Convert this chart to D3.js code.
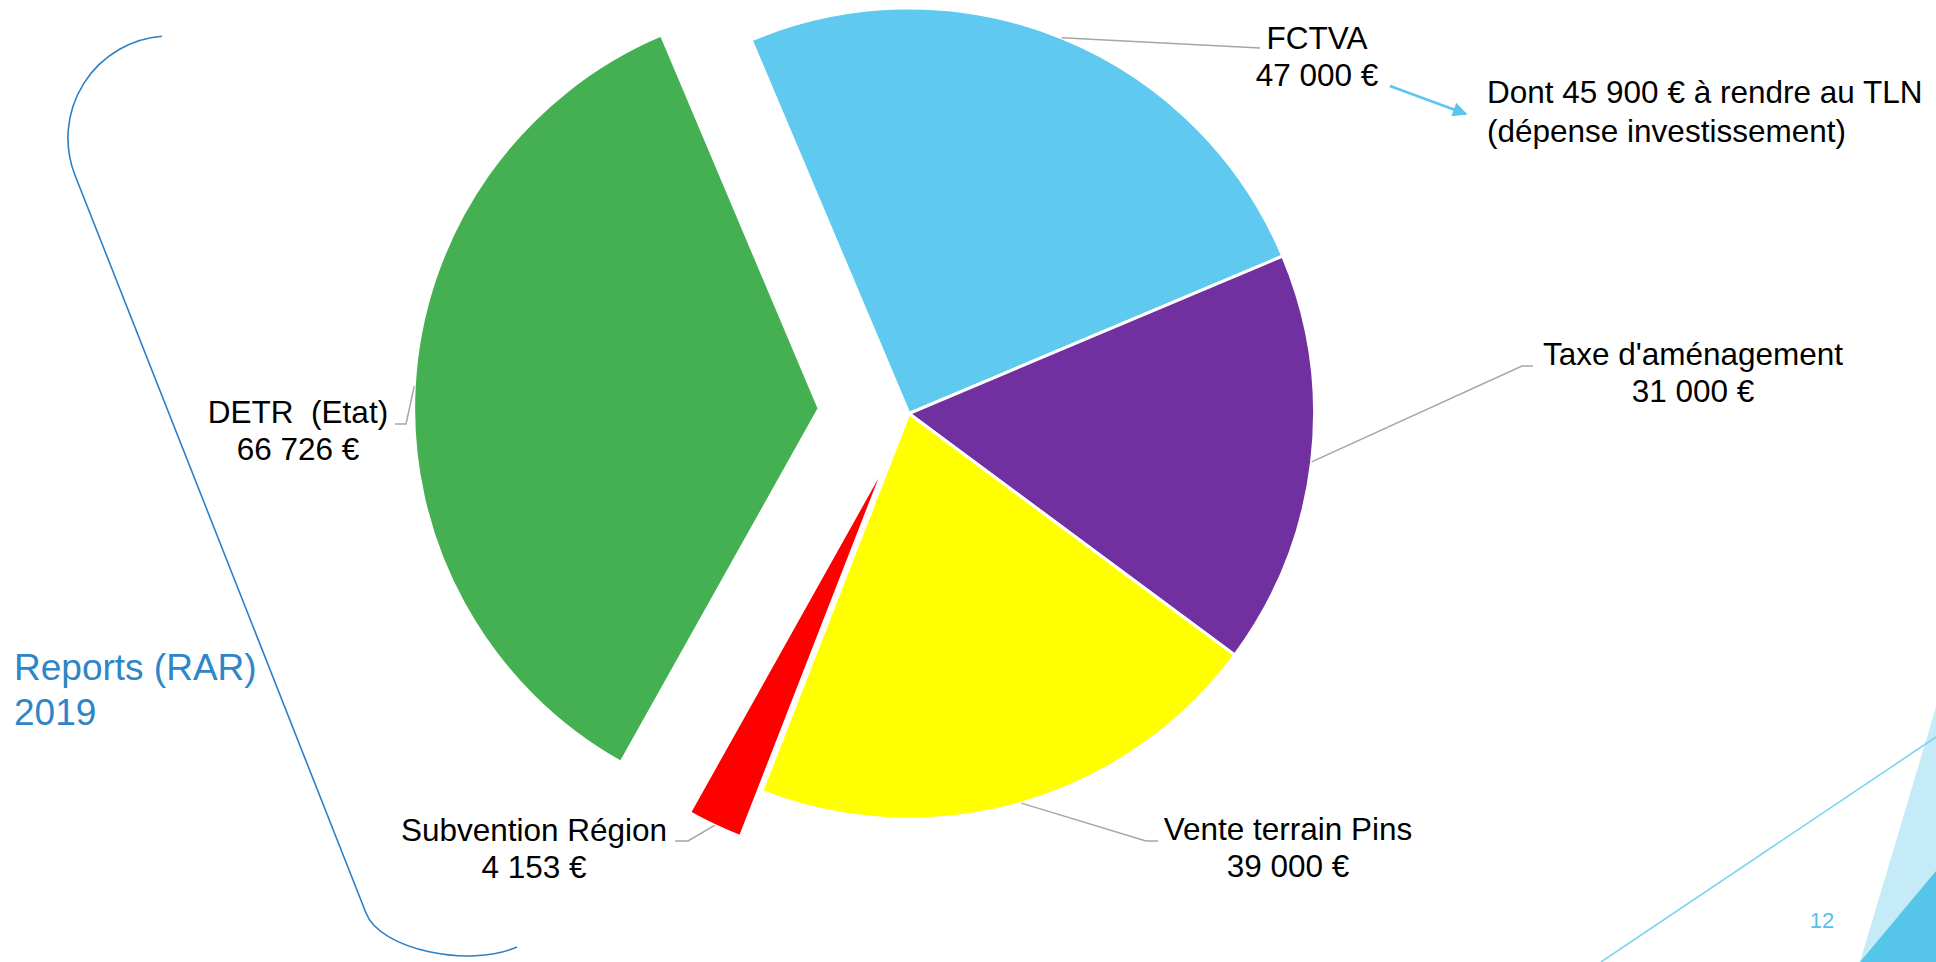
<!DOCTYPE html>
<html>
<head>
<meta charset="utf-8">
<script src="https://cdn.jsdelivr.net/npm/d3@7"></script>
<style>
  html, body { margin: 0; padding: 0; background: #ffffff; }
  svg { display: block; }
  text { font-family: "Liberation Sans", Arial, Helvetica, sans-serif; }
</style>
</head>
<body>
<script>
// ---------------- data ----------------
const categories = ["FCTVA", "Taxe d'aménagement", "Vente terrain Pins", "Subvention Région", "DETR  (Etat)"];
const values = [47000, 31000, 39000, 4153, 66726];
const sliceColors = ["#5fc9ef", "#7030a0", "#ffff00", "#ff0000", "#44b052"];
const noteLines = ["Dont 45 900 € à rendre au TLN", "(dépense investissement)"];
const groupLines = ["Reports (RAR)", "2019"];
const pageNumber = "12";

// ---------------- layout ----------------
const W = 1936, H = 962;
const cx = 909, cy = 413.5, R = 405.5;
const startDeg = -22.9;
const explode = [0, 0, 0, 50, 90];
// label anchor (text centre x, first baseline y) and leader elbow points
const labelLayout = [
  { x: 1317, y: 49,  pts: [[1260, 48]] },
  { x: 1693, y: 365, pts: [[1522, 366], [1533, 366]] },
  { x: 1288, y: 840, pts: [[1146, 841], [1158, 841]] },
  { x: 534,  y: 841, pts: [[688, 841], [675, 841]] },
  { x: 298,  y: 423, pts: [[406, 424], [395, 424]] }
];
const fontSize = 31.5, lineGap = 37;

const locale = d3.formatLocale({ decimal: ",", thousands: "\u00a0", grouping: [3], currency: ["", "\u00a0€"] });
const fmt = locale.format("$,");

const svg = d3.select("body").append("svg")
  .attr("width", W).attr("height", H)
  .attr("viewBox", `0 0 ${W} ${H}`);

svg.append("rect").attr("width", W).attr("height", H).attr("fill", "#ffffff");

// decorative corner shapes
const deco = svg.append("g");
deco.append("path").attr("d", "M1936,707 L1860,962 L1936,962 Z").attr("fill", "#c6ebf8");
deco.append("path").attr("d", "M1936,871 L1860,962 L1936,962 Z").attr("fill", "#55c5ea");
deco.append("line").attr("x1", 1601).attr("y1", 962).attr("x2", 1936).attr("y2", 737)
  .attr("stroke", "#7fd3f0").attr("stroke-width", 1.6);
deco.append("text").attr("x", 1822).attr("y", 928).attr("text-anchor", "middle")
  .attr("font-size", 22).attr("fill", "#4fc3e8").text(pageNumber);

// bracket
svg.append("path")
  .attr("d", "M162,36.3 A102,102 0 0 0 74.8,174.7 L366,913 C380,950 470,968 517,947")
  .attr("fill", "none").attr("stroke", "#2f7fc6").attr("stroke-width", 1.6);
const grp = svg.append("text").attr("font-size", 37).attr("fill", "#2e86c8");
groupLines.forEach((t, i) => grp.append("tspan").attr("x", 14).attr("y", 680 + i * 45).text(t));

// pie
const pie = d3.pie().sort(null).value(d => d)
  .startAngle(startDeg * Math.PI / 180)
  .endAngle(startDeg * Math.PI / 180 + 2 * Math.PI);
const arcs = pie(values);
const arcGen = d3.arc().innerRadius(0).outerRadius(R);

const slices = svg.append("g").attr("transform", `translate(${cx},${cy})`);
slices.selectAll("path").data(arcs).join("path")
  .attr("transform", (d, i) => {
    const m = (d.startAngle + d.endAngle) / 2;
    return `translate(${explode[i] * Math.sin(m)},${-explode[i] * Math.cos(m)})`;
  })
  .attr("d", arcGen)
  .attr("fill", (d, i) => sliceColors[i])
  .attr("stroke", "#ffffff").attr("stroke-width", 3).attr("stroke-linejoin", "miter");

// leader lines
const leaders = svg.append("g");
arcs.forEach((d, i) => {
  const m = (d.startAngle + d.endAngle) / 2;
  const ox = cx + (explode[i] + R) * Math.sin(m);
  const oy = cy - (explode[i] + R) * Math.cos(m);
  const pts = [[ox, oy]].concat(labelLayout[i].pts);
  leaders.append("path").attr("d", d3.line()(pts))
    .attr("fill", "none").attr("stroke", "#a6a6a6").attr("stroke-width", 1.5);
});

// labels
const labels = svg.append("g").attr("font-size", fontSize).attr("fill", "#000000").attr("text-anchor", "middle");
arcs.forEach((d, i) => {
  const L = labelLayout[i];
  const t = labels.append("text").attr("xml:space", "preserve").style("white-space", "pre");
  t.append("tspan").attr("x", L.x).attr("y", L.y).text(categories[i]);
  t.append("tspan").attr("x", L.x).attr("y", L.y + lineGap).text(fmt(values[i]));
});

// note with arrow
const defs = svg.append("defs");
defs.append("marker").attr("id", "arrow").attr("viewBox", "0 0 10 10")
  .attr("refX", 9).attr("refY", 5).attr("markerWidth", 7).attr("markerHeight", 6)
  .attr("markerUnits", "strokeWidth").attr("orient", "auto")
  .append("path").attr("d", "M0,0 L10,5 L0,10 Z").attr("fill", "#5bc5ec");
svg.append("line").attr("x1", 1390).attr("y1", 86).attr("x2", 1466).attr("y2", 114)
  .attr("stroke", "#5bc5ec").attr("stroke-width", 2.4).attr("marker-end", "url(#arrow)");
const note = svg.append("text").attr("font-size", fontSize).attr("fill", "#000000");
noteLines.forEach((t, i) => note.append("tspan").attr("x", 1487).attr("y", 103 + i * 38.5).text(t));
</script>
</body>
</html>
